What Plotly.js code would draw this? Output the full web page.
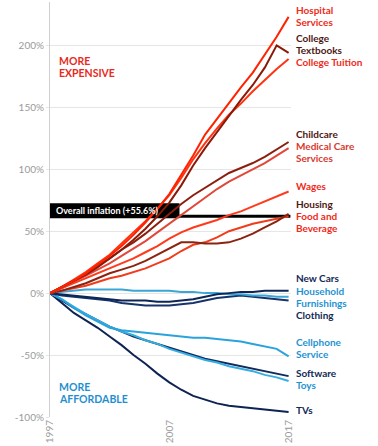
<!DOCTYPE html>
<html>
<head>
<meta charset="utf-8">
<script src="https://cdn.plot.ly/plotly-3.0.1.min.js"></script>
<style>html,body{margin:0;padding:0;background:#fff;}#chart{width:378px;height:446px;}</style>
</head>
<body>
<div id="chart"></div>
<script>
// ---- data (cumulative price change since 1997, %) ----
const years = [1997,1998,1999,2000,2001,2002,2003,2004,2005,2006,2007,2008,2009,2010,2011,2012,2013,2014,2015,2016,2017];
const hospital  = [0,5,10,16,23,30,38,47,57,68,80,95,111,128,141,154,166,178,192,207,223];
const textbooks = [0,5,10,15,21,28,35,43,52,62,73,87,103,117,130,144,156,168,182,200,194];
const tuition   = [0,5,11,17,24,31,40,49,58,68,79,93,108,121,133,144,153,163,172,181,189];
const childcare = [0,5,10,16,22,28,35,41,48,56,64,72,79,85,91,97,101,105,110,116,122];
const medical   = [0,4,9,14,19,24,30,36,42,49,56,63,70,77,84,90,95,100,105,111,117];
const wages     = [0,4,8,12,16,20,24,28,33,38,44,49,53,56,59,63,66,70,74,78,82];
const housing   = [0,2,5,8,12,16,19,22,26,31,36,41,41,40,40,41,44,48,53,58,64];
const food      = [0,2,4,6,9,12,14,17,20,24,28,34,39,41,45,50,53,56,58,60,62];
const newCars   = [0,-1,-2,-3,-4,-5,-6,-6,-6,-7,-7,-6,-5,-3,-1,0,1,1,2,2,2];
const household = [0,1,2,3,3,3,3,2,2,2,2,1,1,0,0,-1,-1,-2,-2,-3,-3];
const clothing  = [0,-2,-3,-4,-5,-6,-8,-9,-10,-10,-10,-9,-8,-6,-4,-3,-2,-3,-4,-5,-6];
const cellphone = [0,-5,-12,-18,-23,-28,-30,-31,-32,-33,-34,-35,-36,-36,-37,-38,-39,-41,-43,-45,-51];
const software  = [0,-6,-12,-17,-22,-27,-31,-35,-38,-41,-44,-47,-50,-53,-55,-57,-59,-61,-63,-65,-67];
const toys      = [0,-5,-11,-17,-22,-27,-31,-34,-38,-41,-45,-48,-51,-54,-56,-59,-61,-63,-66,-68,-71];
const tvs       = [0,-8,-16,-22,-28,-35,-42,-50,-57,-65,-72,-78,-83,-86,-89,-91,-92,-93,-94,-95,-96];
const overallInflation = 62;
const overallLabel = "Overall inflation (+55.6%)";

const yTickVals = [-100,-50,0,50,100,150,200];
const yTickText = ["-100%","-50%","0%","50%","100%","150%","200%"];
const xTickVals = [1997,2007,2017];
const xTickText = ["1997","2007","2017"];

// ---- styling ----
const RED = "#ef2a1a", DARK = "#4e1812", NAVY = "#132a57", LBLUE = "#1f93d2";
const series = [
  {y: tvs,       c: "#0e2352"},
  {y: software,  c: "#112b5c"},
  {y: toys,      c: "#36ade2"},
  {y: cellphone, c: "#2aa3dc"},
  {y: clothing,  c: "#16336a"},
  {y: household, c: "#3aa6d6"},
  {y: newCars,   c: "#0d2656"},
  {y: food,      c: "#f23b1d"},
  {y: housing,   c: "#8a2410"},
  {y: wages,     c: "#ff3a1c"},
  {y: medical,   c: "#e0483a"},
  {y: childcare, c: "#8b1e0e"},
  {y: tuition,   c: "#ff3311"},
  {y: textbooks, c: "#8a1a08"},
  {y: hospital,  c: "#ff2200"}
];
const traces = series.map(s => ({
  x: years, y: s.y, type: "scatter", mode: "lines",
  line: {color: s.c, width: 2}, hoverinfo: "skip", showlegend: false
}));

// label lines: [text, y position, color]
const labels = [
  ["Hospital", 228.2, RED], ["Services", 218.5, RED],
  ["College", 205.6, DARK], ["Textbooks", 196.0, DARK],
  ["College Tuition", 186.3, RED],
  ["Childcare", 128.2, DARK],
  ["Medical Care", 118.5, "#d83a30"], ["Services", 108.9, "#d83a30"],
  ["Wages", 86.3, RED],
  ["Housing", 71.8, DARK],
  ["Food and", 62.1, RED], ["Beverage", 52.4, RED],
  ["New Cars", 12.1, NAVY],
  ["Household", 1.6, LBLUE], ["Furnishings", -8.1, LBLUE],
  ["Clothing", -17.7, NAVY],
  ["Cellphone", -39.1, LBLUE], ["Service", -48.8, LBLUE],
  ["Software", -64.5, NAVY], ["Toys", -74.2, LBLUE],
  ["TVs", -94.4, NAVY]
];
const FONT = "Lato, Open Sans, sans-serif";
const annotations = labels.map(l => ({
  x: 2017, y: l[1], xref: "x", yref: "y", xanchor: "left", yanchor: "middle",
  xshift: 5, text: l[0], showarrow: false,
  font: {family: FONT, size: 10, color: l[2], weight: 700}
}));
annotations.push(
  {x: 0, xref: "paper", y: 187, yref: "y", xanchor: "left", yanchor: "middle", xshift: 7,
   text: "MORE", showarrow: false, font: {family: FONT, size: 10.5, color: "#e8291c", weight: 700}},
  {x: 0, xref: "paper", y: 177.5, yref: "y", xanchor: "left", yanchor: "middle", xshift: 7,
   text: "EXPENSIVE", showarrow: false, font: {family: FONT, size: 10.5, color: "#e8291c", weight: 700}},
  {x: 0, xref: "paper", y: -76, yref: "y", xanchor: "left", yanchor: "middle", xshift: 7,
   text: "MORE", showarrow: false, font: {family: FONT, size: 10.5, color: "#1f8fd0", weight: 700}},
  {x: 0, xref: "paper", y: -85.5, yref: "y", xanchor: "left", yanchor: "middle", xshift: 7,
   text: "AFFORDABLE", showarrow: false, font: {family: FONT, size: 10.5, color: "#1f8fd0", weight: 700}},
  {x: 1997, xref: "x", y: 66.5, yref: "y", xanchor: "left", yanchor: "middle", xshift: 4,
   text: overallLabel, showarrow: false, font: {family: FONT, size: 9, color: "#ffffff", weight: 700}}
);

const shapes = [
  {type: "rect", xref: "x", yref: "y", x0: 1997, x1: 2007.85, y0: 60.5, y1: 72.5,
   fillcolor: "#000", line: {width: 0}, layer: "below"},
  {type: "line", xref: "x", yref: "y", x0: 2007.8, x1: 2017.15, y0: overallInflation, y1: overallInflation,
   line: {color: "#000", width: 3}, layer: "below"}
];

const layout = {
  width: 378, height: 446,
  margin: {l: 50, r: 87, t: 2, b: 29},
  paper_bgcolor: "#fff", plot_bgcolor: "#fff",
  font: {family: FONT},
  showlegend: false,
  xaxis: {
    range: [1997, 2017.2], tickvals: xTickVals, ticktext: xTickText, tickangle: -90,
    showgrid: false, zeroline: false, showline: false, ticks: "",
    tickfont: {size: 10, color: "#9a9a9a"}
  },
  yaxis: {
    range: [-100, 235], tickvals: yTickVals, ticktext: yTickText,
    showgrid: true, gridcolor: "#e6e6e6", gridwidth: 1, zeroline: false,
    showline: true, linecolor: "#cfcfcf", linewidth: 1,
    ticks: "outside", ticklen: 3, tickcolor: "#e6e6e6",
    tickfont: {size: 10, color: "#9a9a9a"}
  },
  annotations: annotations,
  shapes: shapes
};

Plotly.newPlot("chart", traces, layout, {staticPlot: true, displayModeBar: false});
</script>
</body>
</html>
